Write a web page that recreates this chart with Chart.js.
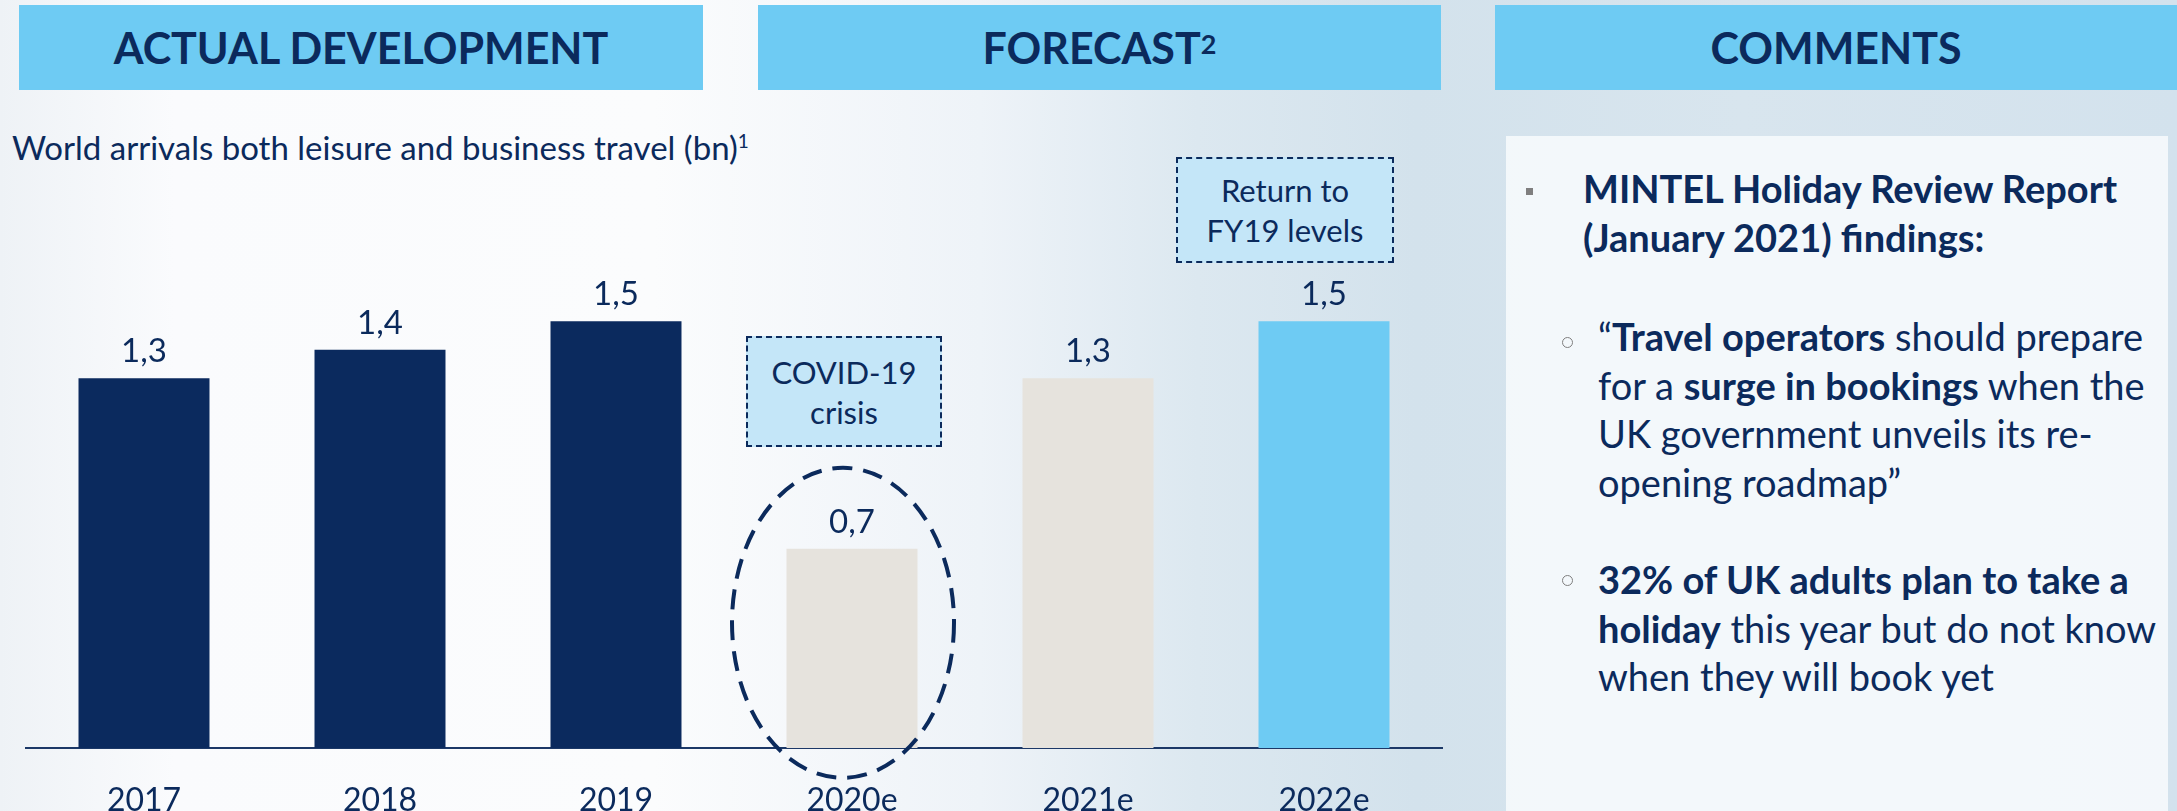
<!DOCTYPE html>
<html>
<head>
<meta charset="utf-8">
<script src="https://cdn.jsdelivr.net/npm/chart.js@4"></script>
<style>
  html, body { margin: 0; padding: 0; }
  body {
    width: 2177px; height: 811px; overflow: hidden; position: relative;
    font-family: Lato, "Open Sans", sans-serif; color: #0b2a5c;
    background: linear-gradient(90deg, #eef2f6 0%, #fafbfd 8%, #fbfcfd 30%, #eef3f8 45%, #dce8f0 55%, #d3e2ec 65%, #d8e5ee 80%, #d3e2ed 100%);
  }
  .hdr {
    position: absolute; top: 5px; height: 85px; background: #6ecbf3;
    display: flex; align-items: center; justify-content: center;
    font-weight: 700; font-size: 43px;
  }
  .hdr sup { font-size: 27px; position: relative; top: -4px; }
  .sub { position: absolute; left: 12px; top: 127px; font-size: 33px; white-space: nowrap; }
  .sub sup { font-size: 19px; }
  .box {
    position: absolute; background: #c4e6f8; border: 2px dashed #0b2a5c; box-sizing: border-box;
    display: flex; flex-direction: column; align-items: center; justify-content: center;
    font-size: 31px; line-height: 40px; text-align: center;
  }
  #wrap { position: absolute; left: 0; top: 0; width: 1470px; height: 811px; }
  .panel { position: absolute; left: 1506px; top: 136px; width: 662px; height: 675px; background: rgba(246, 249, 252, 0.9); }
  .para { position: absolute; font-size: 38px; line-height: 48.7px; white-space: nowrap; }
  .sq { position: absolute; width: 7px; height: 7px; background: #7f7f7f; }
  .ring { position: absolute; width: 9px; height: 9px; border: 1.5px solid #7f7f7f; border-radius: 50%; }
</style>
</head>
<body>
<div class="hdr" style="left:19px;width:684px;">ACTUAL DEVELOPMENT</div>
<div class="hdr" style="left:758px;width:683px;">FORECAST<sup>2</sup></div>
<div class="hdr" style="left:1495px;width:682px;">COMMENTS</div>
<div class="sub">World arrivals both leisure and business travel (bn)<sup>1</sup></div>

<div id="wrap"><canvas id="chart"></canvas></div>

<div class="box" style="left:746px;top:336px;width:196px;height:111px;"><div>COVID-19</div><div>crisis</div></div>
<div class="box" style="left:1176px;top:157px;width:218px;height:106px;"><div>Return to</div><div>FY19 levels</div></div>

<div class="panel"></div>
<div class="sq" style="left:1526px;top:188px;"></div>
<div class="para" style="left:1583px;top:164px;font-weight:700;">MINTEL Holiday Review Report<br>(January 2021) findings:</div>
<div class="ring" style="left:1562px;top:337px;"></div>
<div class="para" style="left:1598px;top:312px;">“<b>Travel operators</b> should prepare<br>for a <b>surge in bookings</b> when the<br>UK government unveils its re-<br>opening roadmap”</div>
<div class="ring" style="left:1562px;top:575px;"></div>
<div class="para" style="left:1598px;top:555px;"><b>32% of UK adults plan to take a</b><br><b>holiday</b> this year but do not know<br>when they will book yet</div>

<script>
// categorie e valori (miliardi di arrivi)
const years = ['2017', '2018', '2019', '2020e', '2021e', '2022e'];
const arrivals = [1.3, 1.4, 1.5, 0.7, 1.3, 1.5];
const barColors = ['#0b2a5e', '#0b2a5e', '#0b2a5e', '#e6e3dd', '#e6e3dd', '#6ecbf3'];

const NAVY = '#0b2a5c';

// Etichette dei valori sopra le barre, con virgola decimale
const valueLabels = {
    id: 'valueLabels',
    afterDatasetsDraw(chart) {
        const ctx = chart.ctx;
        const meta = chart.getDatasetMeta(0);
        ctx.save();
        ctx.font = '33px Lato';
        ctx.fillStyle = NAVY;
        ctx.textAlign = 'center';
        ctx.textBaseline = 'alphabetic';
        meta.data.forEach((bar, i) => {
            ctx.fillText(arrivals[i].toFixed(1).replace('.', ','), bar.x, bar.y - 16);
        });
        ctx.restore();
    }
};

// Ellisse tratteggiata attorno al 2020e
const crisisRing = {
    id: 'crisisRing',
    afterDraw(chart) {
        const ctx = chart.ctx;
        const x = chart.scales.x.getPixelForValue(3) - 9;
        const y = chart.scales.y.getPixelForValue(0.44);
        ctx.save();
        ctx.strokeStyle = NAVY;
        ctx.lineWidth = 4;
        ctx.setLineDash([20, 11]);
        ctx.beginPath();
        ctx.ellipse(x, y, 111, 155, 0, 0, Math.PI * 2);
        ctx.stroke();
        ctx.restore();
    }
};

new Chart(document.getElementById('chart'), {
    type: 'bar',
    data: {
        labels: years,
        datasets: [{
            data: arrivals,
            backgroundColor: barColors,
            borderWidth: 0,
            categoryPercentage: 1,
            barPercentage: 0.555
        }]
    },
    options: {
        responsive: true,
        maintainAspectRatio: false,
        animation: false,
        layout: { padding: { left: 26, right: 28, top: 179, bottom: 0 } },
        plugins: { legend: { display: false }, tooltip: { enabled: false } },
        scales: {
            x: {
                grid: { display: false, drawTicks: false },
                border: { display: true, color: '#1c3867', width: 2 },
                ticks: { color: NAVY, font: { family: 'Lato', size: 32 }, padding: 33 },
                afterFit: s => { s.height = 63; }
            },
            y: { display: false, min: 0, max: 2.0 }
        }
    },
    plugins: [valueLabels, crisisRing]
});
</script>
</body>
</html>
